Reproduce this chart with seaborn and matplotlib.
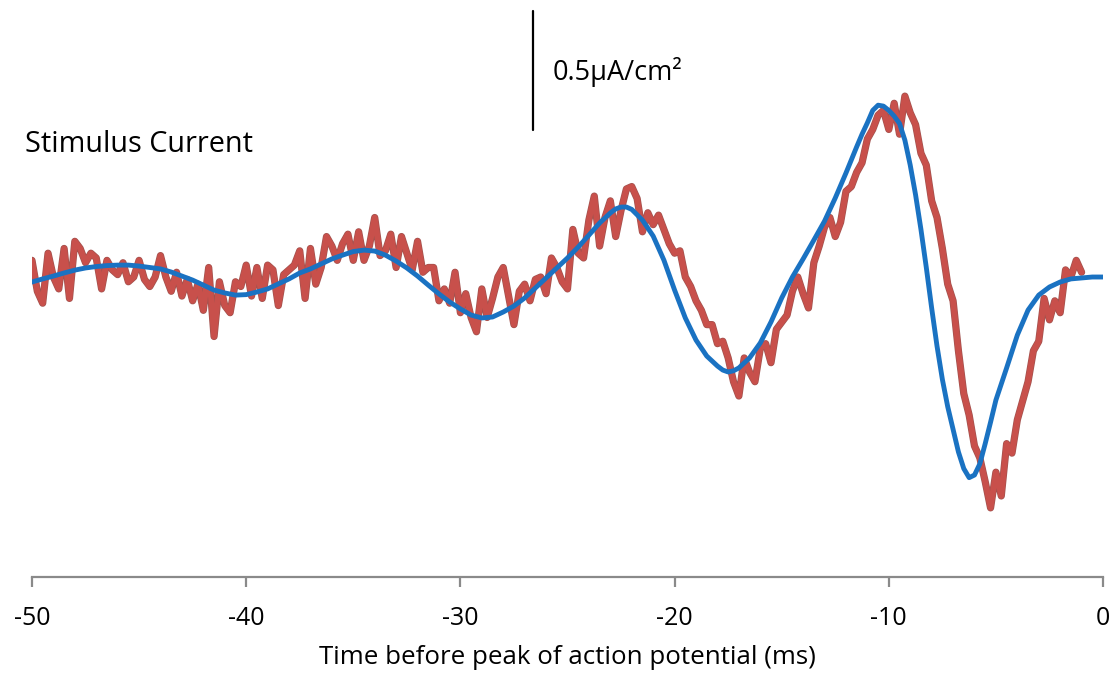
import numpy as np
import pandas as pd
import matplotlib
matplotlib.use("Agg")
import matplotlib.pyplot as plt
import matplotlib.patheffects as pe
import seaborn as sns

# Measured stimulus current (µA/cm²), sampled every 0.25 ms from -50 ms to -1 ms
measured_current = [
    0.07, -0.06, -0.11, 0.10, 0.00, -0.05, 0.12, -0.09, 0.15, 0.12,
    0.06, 0.10, 0.08, -0.05, 0.07, 0.03, 0.01, 0.06, -0.02, 0.00,
    0.07, -0.01, -0.04, 0.00, 0.09, 0.00, -0.06, 0.02, -0.08, -0.01,
    -0.10, -0.03, -0.14, 0.04, -0.25, -0.02, -0.12, -0.15, -0.02, -0.04,
    0.05, -0.08, 0.04, -0.09, 0.05, 0.03, -0.12, 0.01, 0.03, 0.05,
    0.11, -0.09, 0.12, -0.03, 0.04, 0.17, 0.13, 0.07, 0.14, 0.18,
    0.07, 0.19, 0.07, 0.13, 0.25, 0.09, 0.11, 0.18, 0.04, 0.17,
    0.10, 0.03, 0.15, 0.02, 0.04, 0.04, -0.10, -0.05, -0.11, 0.02,
    -0.15, -0.07, -0.17, -0.23, -0.05, -0.17, -0.09, 0.00, 0.04, -0.08,
    -0.20, -0.06, -0.03, -0.10, -0.01, 0.00, -0.07, 0.08, 0.04, -0.02,
    -0.05, 0.20, 0.10, 0.08, 0.24, 0.34, 0.13, 0.25, 0.32, 0.17,
    0.28, 0.37, 0.38, 0.33, 0.19, 0.27, 0.22, 0.26, 0.20, 0.14,
    0.10, 0.11, 0.00, -0.04, -0.10, -0.14, -0.20, -0.20, -0.28, -0.27,
    -0.34, -0.44, -0.50, -0.34, -0.40, -0.44, -0.30, -0.28, -0.36, -0.22,
    -0.19, -0.16, -0.06, 0.00, -0.07, -0.13, 0.06, 0.13, 0.21, 0.25,
    0.17, 0.23, 0.36, 0.38, 0.44, 0.48, 0.58, 0.62, 0.68, 0.70,
    0.62, 0.73, 0.60, 0.76, 0.69, 0.64, 0.52, 0.47, 0.32, 0.25,
    0.12, -0.03, -0.10, -0.31, -0.49, -0.58, -0.71, -0.76, -0.86, -0.97,
    -0.82, -0.92, -0.70, -0.74, -0.60, -0.52, -0.44, -0.31, -0.27, -0.09,
    -0.18, -0.10, -0.15, 0.03, 0.00, 0.07, 0.02,
]
measured_time = np.arange(len(measured_current)) * 0.25 - 50.0

# Smooth model current (µA/cm²); sampled more densely around the large swing
model_time = [
    -50.0, -49.5, -49.0, -48.5, -48.0, -47.5, -47.0, -46.5, -46.0, -45.5,
    -45.0, -44.5, -44.0, -43.5, -43.0, -42.5, -42.0, -41.5, -41.0, -40.5,
    -40.0, -39.5, -39.0, -38.5, -38.0, -37.5, -37.0, -36.5, -36.0, -35.5,
    -35.0, -34.5, -34.0, -33.5, -33.0, -32.5, -32.0, -31.5, -31.0, -30.5,
    -30.0, -29.5, -29.0, -28.5, -28.0, -27.5, -27.0, -26.5, -26.0, -25.5,
    -25.0, -24.5, -24.0, -23.5, -23.0, -22.75, -22.5, -22.25, -22.0, -21.5,
    -21.0, -20.5, -20.0, -19.5, -19.0, -18.5, -18.0, -17.75, -17.5, -17.25,
    -17.0, -16.5, -16.0, -15.5, -15.0, -14.5, -14.0, -13.5, -13.0, -12.5,
    -12.0, -11.5, -11.25, -11.0, -10.75, -10.5, -10.25, -10.0, -9.75, -9.5,
    -9.25, -9.0, -8.75, -8.5, -8.25, -8.0, -7.75, -7.5, -7.25, -7.0,
    -6.75, -6.5, -6.25, -6.0, -5.75, -5.5, -5.25, -5.0, -4.5, -4.0,
    -3.5, -3.0, -2.5, -2.0, -1.5, -1.0, -0.5, 0.0,
]
model_current = [
    -0.021, -0.008, 0.004, 0.017, 0.029, 0.038, 0.044, 0.048, 0.050, 0.050,
    0.046, 0.040, 0.034, 0.021, 0.004, -0.013, -0.034, -0.055, -0.067, -0.076,
    -0.074, -0.063, -0.050, -0.029, -0.008, 0.017, 0.034, 0.055, 0.076, 0.092,
    0.107, 0.113, 0.109, 0.092, 0.067, 0.038, 0.004, -0.034, -0.071, -0.105,
    -0.134, -0.160, -0.172, -0.168, -0.147, -0.122, -0.088, -0.046, -0.004, 0.038,
    0.080, 0.126, 0.176, 0.227, 0.269, 0.286, 0.294, 0.294, 0.284, 0.239,
    0.172, 0.071, -0.055, -0.172, -0.265, -0.332, -0.374, -0.391, -0.399, -0.394,
    -0.382, -0.340, -0.277, -0.189, -0.088, 0.000, 0.076, 0.155, 0.235, 0.332,
    0.437, 0.547, 0.600, 0.648, 0.700, 0.722, 0.718, 0.700, 0.676, 0.645,
    0.575, 0.470, 0.345, 0.200, 0.040, -0.130, -0.290, -0.430, -0.545, -0.640,
    -0.735, -0.805, -0.843, -0.832, -0.785, -0.700, -0.610, -0.517, -0.382, -0.244,
    -0.139, -0.076, -0.042, -0.021, -0.008, -0.004, 0.000, 0.000,
]

x_ticks = [-50, -40, -30, -20, -10, 0]
x_tick_labels = ["-50", "-40", "-30", "-20", "-10", "0"]

measured = pd.DataFrame({"time": measured_time, "current": measured_current})
model = pd.DataFrame({"time": model_time, "current": model_current})

sns.set_style("white")
plt.rcParams["font.family"] = ["Open Sans", "DejaVu Sans"]
plt.rcParams["text.color"] = "black"
plt.rcParams["axes.labelcolor"] = "black"
plt.rcParams["xtick.labelcolor"] = "black"

fig = plt.figure(figsize=(11.18, 6.79), dpi=100)
ax = fig.add_axes([0.0286, 0.1502, 0.9580, 0.8498])

sns.lineplot(data=measured, x="time", y="current", ax=ax, color="#C8504B",
             linewidth=4.2, solid_joinstyle="round")
ax.lines[-1].set_path_effects([pe.Stroke(linewidth=5.2, foreground="#A2524E"), pe.Normal()])
sns.lineplot(data=model, x="time", y="current", ax=ax, color="#1A72C2",
             linewidth=3.5, solid_capstyle="round", solid_joinstyle="round")

ax.set_xlim(-50, 0)
ax.set_ylim(-1.2605, 1.1639)
ax.set_xticks(x_ticks)
ax.set_xticklabels(x_tick_labels)
ax.set_yticks([])
ax.set_ylabel("")
ax.set_xlabel("Time before peak of action potential (ms)", fontsize=18.6, labelpad=10)

for side in ("top", "right", "left"):
    ax.spines[side].set_visible(False)
ax.spines["bottom"].set_color("#8A8A8A")
ax.spines["bottom"].set_linewidth(1.6)
ax.tick_params(axis="x", direction="out", length=7, width=1.6, color="#8A8A8A",
               labelsize=18, pad=14, bottom=True)

# scale bar
bar_x, bar_top = -26.61, 1.118
ax.plot([bar_x, bar_x], [bar_top, bar_top - 0.5], color="black", linewidth=1.6)
ax.text(-25.68, bar_top - 0.257, "0.5\u00b5A/cm\u00b2", fontsize=19.5, va="center", ha="left")

ax.text(-50.33, 0.555, "Stimulus Current", fontsize=20.8, va="center", ha="left")

fig.savefig("out.png", dpi=100)
